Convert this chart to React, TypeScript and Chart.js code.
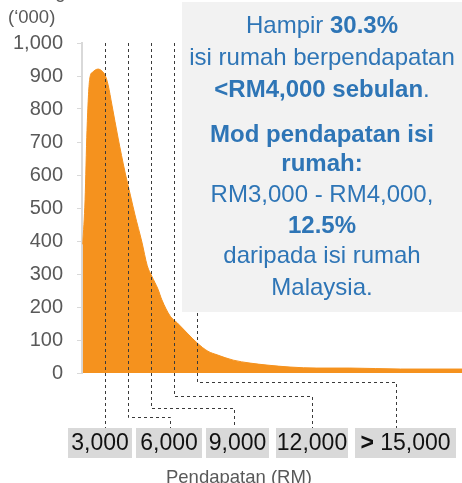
import React, { useEffect, useRef } from 'react';
import { Chart, registerables } from 'chart.js';

Chart.register(...registerables);

// ---- data ----
const incomes = [100, 400, 650, 1000, 1400, 2100, 2600, 3000, 3400, 3900, 4700, 5600, 6300, 6900, 7800, 8500, 9100, 9900, 10400, 11500, 12400, 13700, 15000, 16400, 17600, 19700, 21900, 24100, 27100, 30600, 34900, 41500, 49500];
const households = [390, 525, 735, 890, 912, 921, 915, 903, 873, 812, 712, 609, 539, 479, 397, 325, 293, 254, 222, 172, 152, 121, 91, 66, 55, 39, 30, 24, 18, 15, 15, 12, 12];
const markerIncomes = [3000, 6000, 9000, 12000, 15000];
const markerLabels = ['3,000', '6,000', '9,000', '12,000', '15,000'];
const markerPrefix = ['', '', '', '', '> '];
const yUnit = '(‘000)';
const yTitle = 'Bilangan';
const xTitle = 'Pendapatan (RM)';
const noteLines: [string, boolean][][] = [
  [['Hampir ', false], ['30.3%', true]],
  [['isi rumah berpendapatan', false]],
  [['<RM4,000 sebulan', true], ['.', false]],
  [['Mod pendapatan isi', true]],
  [['rumah:', true]],
  [['RM3,000 - RM4,000,', false]],
  [['12.5%', true]],
  [['daripada isi rumah', false]],
  [['Malaysia.', false]],
];

// ---- layout (positions only) ----
const FONT = '"Liberation Sans", Arial, sans-serif';
const noteBaselines = [33, 65, 97, 142, 171, 202, 233, 263, 295];
const noteBox = { x: 182, y: 2, w: 280, h: 310 };
const labelBoxes = [
  { x0: 68, x1: 132, elbow: null as number | null, end: 0 },
  { x0: 136, x1: 202, elbow: 417, end: 170 },
  { x0: 206, x1: 269, elbow: 408, end: 234 },
  { x0: 276, x1: 348, elbow: 396, end: 312 },
  { x0: 355, x1: 456, elbow: 382, end: 396 },
];
const labelTop = 428;
const labelBottom = 458;

const overlay = {
  id: 'overlay',
  afterDatasetsDraw(chart: any) {
    const { ctx, scales } = chart;
    const x = scales.x;
    const y = scales.y;
    ctx.save();
    // dashed leader lines
    ctx.strokeStyle = '#3a3a3a';
    ctx.lineWidth = 1;
    ctx.setLineDash([3, 3]);
    markerIncomes.forEach((v, i) => {
      const px = Math.round(x.getPixelForValue(v)) + 0.5;
      const lay = labelBoxes[i];
      ctx.beginPath();
      ctx.moveTo(px, y.getPixelForValue(1000));
      if (lay.elbow == null) {
        ctx.lineTo(px, labelTop);
      } else {
        ctx.lineTo(px, lay.elbow + 0.5);
        ctx.lineTo(lay.end + 0.5, lay.elbow + 0.5);
        ctx.lineTo(lay.end + 0.5, labelTop);
      }
      ctx.stroke();
    });
    ctx.setLineDash([]);

    // note box
    ctx.fillStyle = '#f2f2f2';
    ctx.fillRect(noteBox.x, noteBox.y, noteBox.w, noteBox.h);
    const cx = noteBox.x + noteBox.w / 2;
    ctx.fillStyle = '#2e75b6';
    ctx.textBaseline = 'alphabetic';
    ctx.textAlign = 'left';
    noteLines.forEach((segs, i) => {
      let total = 0;
      const widths = segs.map(([t, b]) => {
        ctx.font = `${b ? 'bold ' : ''}24px ${FONT}`;
        const w = ctx.measureText(t).width;
        total += w;
        return w;
      });
      let sx = cx - total / 2;
      segs.forEach(([t, b], j) => {
        ctx.font = `${b ? 'bold ' : ''}24px ${FONT}`;
        ctx.fillText(t, sx, noteBaselines[i]);
        sx += widths[j];
      });
    });

    // label boxes
    labelBoxes.forEach((lay, i) => {
      ctx.fillStyle = '#d9d9d9';
      ctx.fillRect(lay.x0, labelTop, lay.x1 - lay.x0, labelBottom - labelTop);
      ctx.fillStyle = '#111111';
      const mid = (lay.x0 + lay.x1) / 2;
      ctx.font = `bold 23px ${FONT}`;
      const pw = markerPrefix[i] ? ctx.measureText(markerPrefix[i]).width : 0;
      ctx.font = `23px ${FONT}`;
      const lw = ctx.measureText(markerLabels[i]).width;
      let sx = mid - (pw + lw) / 2;
      ctx.textBaseline = 'middle';
      if (pw) {
        ctx.font = `bold 23px ${FONT}`;
        ctx.fillText(markerPrefix[i], sx, (labelTop + labelBottom) / 2 + 1);
        sx += pw;
      }
      ctx.font = `23px ${FONT}`;
      ctx.fillText(markerLabels[i], sx, (labelTop + labelBottom) / 2 + 1);
    });

    // titles
    ctx.fillStyle = '#595959';
    ctx.textBaseline = 'middle';
    ctx.textAlign = 'center';
    ctx.font = `18.5px ${FONT}`;
    ctx.fillText(xTitle, 239, 478);
    ctx.textAlign = 'left';
    ctx.fillText(yUnit, 8, 18);
    ctx.textBaseline = 'alphabetic';
    ctx.fillText(yTitle, 14, -2);
    ctx.restore();
  },
};

export default function App() {
  const ref = useRef<HTMLCanvasElement>(null);
  useEffect(() => {
    document.body.style.margin = '0';
    const chart = new Chart(ref.current!, {
      type: 'line',
      data: {
        datasets: [
          {
            data: incomes.map((v, i) => ({ x: v, y: households[i] })),
            fill: 'origin',
            backgroundColor: '#f5921e',
            borderColor: '#f5921e',
            borderWidth: 1,
            pointRadius: 0,
            cubicInterpolationMode: 'monotone',
          },
        ],
      },
      options: {
        animation: false,
        responsive: false,
        devicePixelRatio: 1,
        layout: { padding: { top: 43, bottom: 110, left: 0, right: 0 } },
        plugins: { legend: { display: false }, tooltip: { enabled: false } },
        scales: {
          x: { type: 'linear', min: 0, max: 49500, display: false },
          y: {
            min: 0,
            max: 1000,
            afterFit: (s: any) => {
              s.width = 82;
            },
            ticks: {
              stepSize: 100,
              padding: 14,
              color: '#595959',
              font: { family: FONT, size: 20 },
              callback: (v: any) => Number(v).toLocaleString('en-US'),
            },
            grid: {
              drawOnChartArea: false,
              drawTicks: true,
              tickLength: 5,
              color: '#d9d9d9',
              lineWidth: 1,
            },
            border: { display: true, color: '#d9d9d9', width: 2 },
          },
        },
      },
      plugins: [overlay],
    } as any);
    return () => chart.destroy();
  }, []);
  return (
    <div style={{ width: 462, height: 483 }}>
      <canvas ref={ref} width={462} height={483} />
    </div>
  );
}
